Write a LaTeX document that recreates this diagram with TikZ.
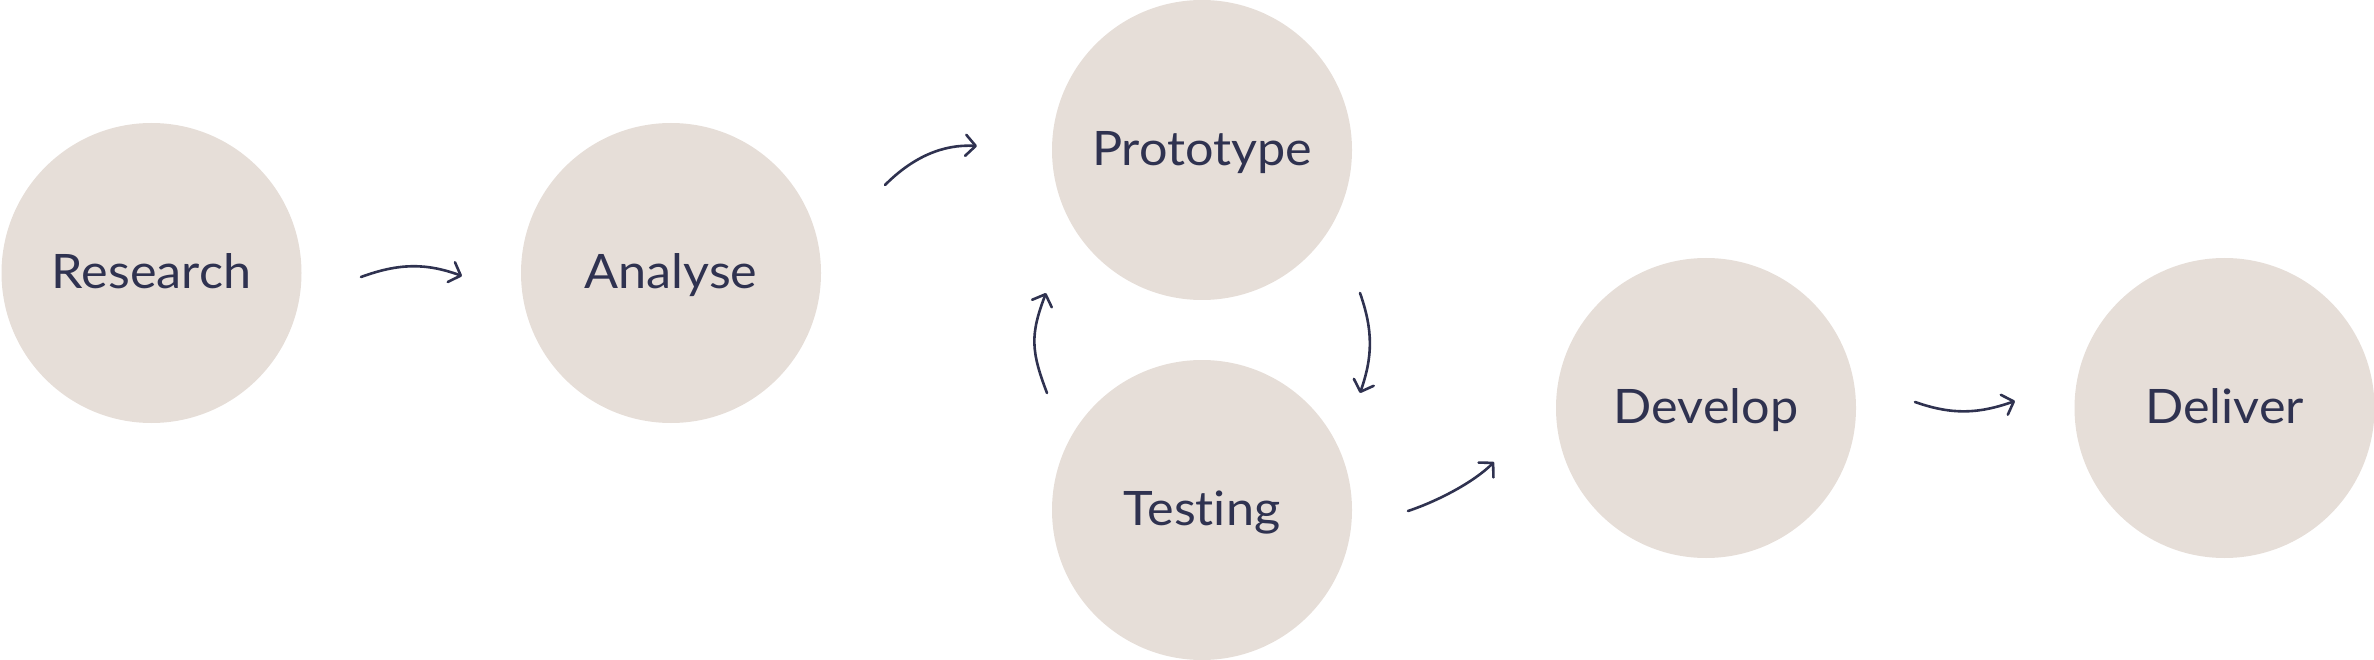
\documentclass[tikz,border=0pt]{standalone}
\usepackage{fontspec}
\setmainfont{Lato}[Ligatures={NoCommon,NoContextual}, FakeStretch=1.06]
\usetikzlibrary{arrows.meta}
\definecolor{beige}{HTML}{E6DED8}
\definecolor{ink}{HTML}{2F3250}
\tikzset{
  stage/.style={circle, fill=beige, draw=none, minimum size=300pt, inner sep=0pt,
    text=ink, font=\fontsize{47.5}{50}\selectfont, text height=31pt, text depth=0pt},
  flow/.style={draw=ink, line width=2.6pt, line cap=round, line join=round,
    -{Straight Barb[length=10pt,width=21pt,line cap=round,line join=round]}}
}
\begin{document}
\begin{tikzpicture}[x=1pt,y=-1pt]
\useasboundingbox (0,0) rectangle (2374,660);
\node[stage] (research) at (151.5,273) {Research};
\node[stage] (analyse) at (671,273) {Analyse};
\node[stage] (prototype) at (1202,150) {Prototype};
\node[stage] (testing) at (1202,510) {Testing};
\node[stage] (develop) at (1706,408) {Develop};
\node[stage] (deliver) at (2224.5,408) {Deliver};

\coordinate (a1s) at (361,277);
\coordinate (a1e) at (462,276);
\coordinate (a2s) at (885,185);
\coordinate (a2e) at (977,146);
\coordinate (a3s) at (1047,393);
\coordinate (a3e) at (1046,293);
\coordinate (a4s) at (1360,293);
\coordinate (a4e) at (1360,393);
\coordinate (a5s) at (1408,511);
\coordinate (a5e) at (1494,462);
\coordinate (a6s) at (1915,402);
\coordinate (a6e) at (2015,401);

\draw[flow] (a1s) .. controls +(37,-13.5) and +(-37,-13.5) .. (a1e);
\draw[flow] (a2s) .. controls +(28,-28) and +(-34,-2) .. (a2e);
\draw[flow] (a3s) .. controls +(-16,-41.7) and +(-16,41.7) .. (a3e);
\draw[flow] (a4s) .. controls +(13,37) and +(13,-37) .. (a4e);
\draw[flow] (a5s) .. controls +(30,-10) and +(-20,20) .. (a5e);
\draw[flow] (a6s) .. controls +(37,13) and +(-37,13) .. (a6e);
\end{tikzpicture}
\end{document}
